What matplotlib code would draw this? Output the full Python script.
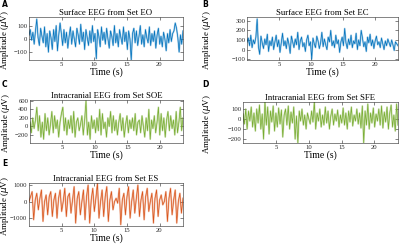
import numpy as np
import matplotlib
matplotlib.use("Agg")
import matplotlib.pyplot as plt

# EEG traces (µV), evenly spaced over the 23.6 s record
eo = [30, 70, -10, 50, -40, 60, 150, 10, -50, 80, 20, -30, 90, -60, 40, -100, 60, 10, -80, 70,
      -20, 100, -90, 30, 120, 40, -50, 70, -30, 50, -70, 20, 90, -40, 60, 0, -60, 80, 30, -40,
      110, -20, 50, -80, 70, 10, -50, 60, -30, 100, -20, 40, -150, 70, 20, -60, 90, -10, 50, -40,
      80, 0, -70, 60, 20, -50, 100, -30, 40, -60, 70, 10, -40, 90, -20, 50, -80, 60, 0, -160,
      40, 80, -30, 60, -50, 20, 100, -40, 30, -60, 70, 10, -30, 90, -50, 40, -20, 60, -70, 30,
      80, -40, 20, -60, 50, 0, -90, 40, -30, 70, -20, 40, 60, 120, 80, 10, -100, 30, -40, 60]
ec = [80, 120, 40, 150, 20, 100, 60, 130, 320, 30, -50, 140, 70, 10, 110, 50, 160, -20, 90, 40,
      130, 0, 80, 150, 30, 100, -30, 70, 170, 40, 90, 10, 120, 60, -40, 140, 80, 20, 110, 50,
      180, 0, 90, 130, 30, 70, -20, 100, 150, 40, 80, -100, 120, 60, 20, 140, 90, 10, 70, 180,
      30, 110, 50, 0, 130, 80, 200, 40, 90, 20, 150, 60, 100, -30, 80, 130, 40, 220, 70, 10,
      110, 50, 150, 20, 90, 60, 170, 0, 100, 40, 200, 120, 30, 80, -20, 130, 70, 160, 40, 100,
      10, 90, 140, 50, 80, 20, 120, 60, 0, 90, 40, 110, 70, 30, 100, 50, -10, 80, 60, 40]
soe = [100, -150, 200, -50, 150, 450, -100, 250, -250, 100, -300, 300, -100, 200, -200, 50, 350, -150, 250, -50,
       150, -250, 100, 300, 450, -100, 200, -200, 150, -50, 250, -150, 350, -250, 100, 200, -100, 50, 250, -200,
       150, 600, -200, 100, -300, 250, -50, 150, -150, 200, -100, 400, -200, 300, -50, 100, -250, 200, 0, 350,
       -150, 250, -100, 150, -200, 100, 300, -100, 200, -250, 50, 250, -150, 150, -50, 200, -100, 300, -200, 100,
       150, -150, 250, 0, -250, 200, -100, 400, -300, 150, -50, 250, -150, 100, 450, -200, 300, -100, 200, -250,
       150, 350, -100, 250, -50, 150, -200, 350, -150, 100, 450, -100, 200]
sfe = [50, -50, 100, -100, 80, -20, 120, -80, 60, -120, 100, -40, 140, -100, 50, -200, 170, -60, 120, -150,
       80, -30, 130, -120, 60, -80, 110, -50, 90, -180, 40, 100, -60, 130, -100, 70, -40, 120, -200, 30,
       -240, 80, -20, 100, -60, 40, -100, 60, 0, -50, 80, -30, 170, -100, 60, -20, 100, -80, 40, -60,
       120, -40, 80, -100, 30, 100, -60, 50, -20, 90, -80, 40, -40, 110, -60, 60, -100, 80, -30, 120,
       -70, 40, -20, 100, -50, 60, -90, 130, -240, 80, -60, 150, -100, 60, -40, 110, -80, 50, -20, 100,
       -60, 130, -90, 70, -30, 120, -100, 60, 140, -80, 40, -120, 150, -60]
es = [0, 300, 600, -1100, 100, 500, -500, 200, 700, -1200, 0, 400, -800, 300, 600, -900, 100, 500, -1000, 200,
      700, -600, 0, 800, -900, 300, 500, -700, 100, 900, -1300, 200, 600, -800, 0, 700, -1100, 300, 1000, -1300,
      100, 800, -600, 200, 1100, -1000, 0, 700, -900, 300, 900, -1200, 100, 600, -500, 0, 200, -100, 800, -1400,
      100, 500, -800, 300, 900, -1000, 0, 700, -700, 200, 1000, -900, 100, 600, -1100, 300, 800, -600, 0, 500,
      -1300, 200, 700, -900, 100, 400, -200, 0, 600, -1200, 200, 800, -800, 100, 700, -1300, 0, 500, -700, 200]

duration = 23.6

# letter, title, data, colour, ylim, yticks, axes rect, letter pos, ylabel x (axes frac)
panels = [
    ("A", "Surface EEG from Set EO", eo, "#0072BD", (-160, 165), [-100, 0, 100],
     [0.0725, 0.757, 0.385, 0.174], (0.005, 0.998), -0.115),
    ("B", "Surface EEG from Set EC", ec, "#0072BD", (-110, 340), [-100, 0, 100, 200, 300],
     [0.6175, 0.757, 0.3775, 0.174], (0.505, 0.998), -0.225),
    ("C", "Intracranial EEG from Set SOE", soe, "#77AC30", (-390, 620), [-200, 0, 200, 400, 600],
     [0.075, 0.421, 0.3825, 0.174], (0.005, 0.678), -0.12),
    ("D", "Intracranial EEG from Set SFE", sfe, "#77AC30", (-240, 170), [-200, -100, 0, 100],
     [0.6075, 0.421, 0.3875, 0.166], (0.505, 0.678), -0.195),
    ("E", "Intracranial EEG from Set ES", es, "#D95319", (-1480, 1120), [-1000, 0, 1000],
     [0.0725, 0.085, 0.385, 0.174], (0.005, 0.355), -0.115),
]

plt.rcParams['font.family'] = ['Liberation Serif', 'DejaVu Serif']
fig = plt.figure(figsize=(4, 2.47), dpi=100)

for letter, title, vals, color, ylim, yticks, rect, lpos, ylab_x in panels:
    ax = fig.add_axes(rect)
    t = np.linspace(0, duration, len(vals))
    # soft halo + crisp core, like the dense trace in the original
    ax.plot(t, vals, color=color, linewidth=1.3, alpha=0.35)
    ax.plot(t, vals, color=color, linewidth=0.5)
    ax.set_xlim(0, duration)
    ax.set_ylim(*ylim)
    ax.set_xticks([5, 10, 15, 20])
    ax.set_yticks(yticks)
    ax.tick_params(direction="in", length=2, width=0.4, labelsize=4.8, pad=1.2,
                   top=True, right=True, colors="#262626")
    for s in ax.spines.values():
        s.set_linewidth(0.4)
        s.set_color("#262626")
    ax.set_title(title, fontsize=6.3, pad=1.5)
    ax.set_xlabel("Time (s)", fontsize=7, labelpad=0.3)
    ax.set_ylabel(r"Amplitude ($\mu$V)", fontsize=6.4)
    ax.yaxis.set_label_coords(ylab_x, 0.47)
    fig.text(lpos[0], lpos[1], letter, fontsize=5.5, fontweight="bold",
             family="DejaVu Sans", va="top")

fig.savefig("out.png", dpi=100)
